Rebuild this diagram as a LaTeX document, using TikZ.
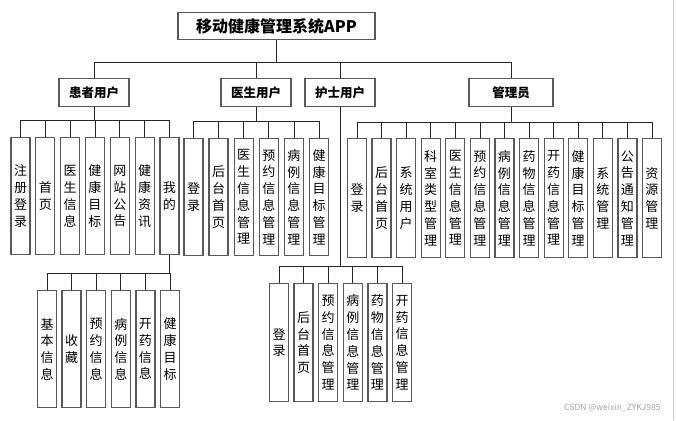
\documentclass[tikz,border=0pt]{standalone}
\usepackage{fontspec}
\setmainfont{Noto Sans CJK SC}
\usepackage{tikz}
\usetikzlibrary{positioning}
\tikzstyle{rootbox} = [rectangle, draw=black!65, line width=1.3pt, minimum width=197pt, minimum height=27pt, inner sep=0pt, font=\fontsize{16}{18}\selectfont\bfseries, anchor=north]
\tikzstyle{rolebox} = [rectangle, draw=black!65, line width=1.3pt, minimum width=70pt, minimum height=28pt, inner sep=0pt, font=\fontsize{12.5}{14}\selectfont\bfseries, anchor=north]
\tikzstyle{leaf} = [rectangle, draw=black!65, line width=1.3pt, minimum width=19pt, minimum height=117pt, inner sep=0pt, align=center, font=\fontsize{13}{16.8}\selectfont, anchor=north]
\tikzstyle{link} = [draw=black!85, line width=0.8pt]

\begin{document}
\begin{tikzpicture}[x=1pt, y=-1pt]
  \useasboundingbox (0,0) rectangle (676,420);

  % 顶部
  \node[rootbox] (app) at (276.5,12) {移动健康管理系统APP};

  % 角色
  \node[rolebox] (hz) at (94,78) {患者用户};
  \node[rolebox] (ys) at (256,78) {医生用户};
  \node[rolebox] (hs) at (340,78) {护士用户};
  \node[rolebox, minimum width=84pt] (gly) at (511,78) {管理员};

  \foreach \r in {hz, ys, hs, gly}
    \draw[link] (app.south) -- ++(0,22) -| (\r.north);

  % 患者用户
  \foreach \t [count=\i] in {注\\册\\登\\录, 首\\页, 医\\生\\信\\息, 健\\康\\目\\标, 网\\站\\公\\告, 健\\康\\资\\讯, 我\\的}
    \node[leaf] (p\i) at ({20.5+(\i-1)*24.83},137) {\t};
  \foreach \i in {1,...,7}
    \draw[link] (hz.south) -- ++(0,13) -| (p\i.north);

  % 我的
  \foreach \t [count=\i] in {基\\本\\信\\息, 收\\藏, 预\\约\\信\\息, 病\\例\\信\\息, 开\\药\\信\\息, 健\\康\\目\\标}
    \node[leaf] (m\i) at ({47+(\i-1)*24.6},290) {\t};
  \foreach \i in {1,...,6}
    \draw[link] (p7.south) -- ++(0,18) -| (m\i.north);

  % 医生用户
  \foreach \t [count=\i] in {登\\录, 后\\台\\首\\页, 医\\生\\信\\息\\管\\理, 预\\约\\信\\息\\管\\理, 病\\例\\信\\息\\管\\理, 健\\康\\目\\标\\管\\理}
    \node[leaf] (d\i) at ({193.5+(\i-1)*25.1},138) {\t};
  \foreach \i in {1,...,6}
    \draw[link] (ys.south) -- ++(0,14) -| (d\i.north);

  % 护士用户
  \foreach \t [count=\i] in {登\\录, 后\\台\\首\\页, 预\\约\\信\\息\\管\\理, 病\\例\\信\\息\\管\\理, 药\\物\\信\\息\\管\\理, 开\\药\\信\\息\\管\\理}
    \node[leaf, minimum height=118pt] (n\i) at ({279+(\i-1)*24.6},283) {\t};
  \foreach \i in {1,...,6}
    \draw[link] (hs.south) -- ++(0,159) -| (n\i.north);

  % 管理员
  \foreach \t [count=\i] in {登\\录, 后\\台\\首\\页, 系\\统\\用\\户, 科\\室\\类\\型\\管\\理, 医\\生\\信\\息\\管\\理, 预\\约\\信\\息\\管\\理, 病\\例\\信\\息\\管\\理, 药\\物\\信\\息\\管\\理, 开\\药\\信\\息\\管\\理, 健\\康\\目\\标\\管\\理, 系\\统\\管\\理, 公\\告\\通\\知\\管\\理, 资\\源\\管\\理}
    \node[leaf, minimum height=119pt] (a\i) at ({357+(\i-1)*24.58},138) {\t};
  \foreach \i in {1,...,13}
    \draw[link] (gly.south) -- ++(0,15) -| (a\i.north);

  % 水印
  \draw[black!20, line width=1pt] (673,0) -- (673,420);
  \node[anchor=east, text=black!35, font=\fontsize{8.5}{10}\selectfont] (wm) at (664,408) {CSDN @weixin\_ZYKJ985};
\end{tikzpicture}
\end{document}
